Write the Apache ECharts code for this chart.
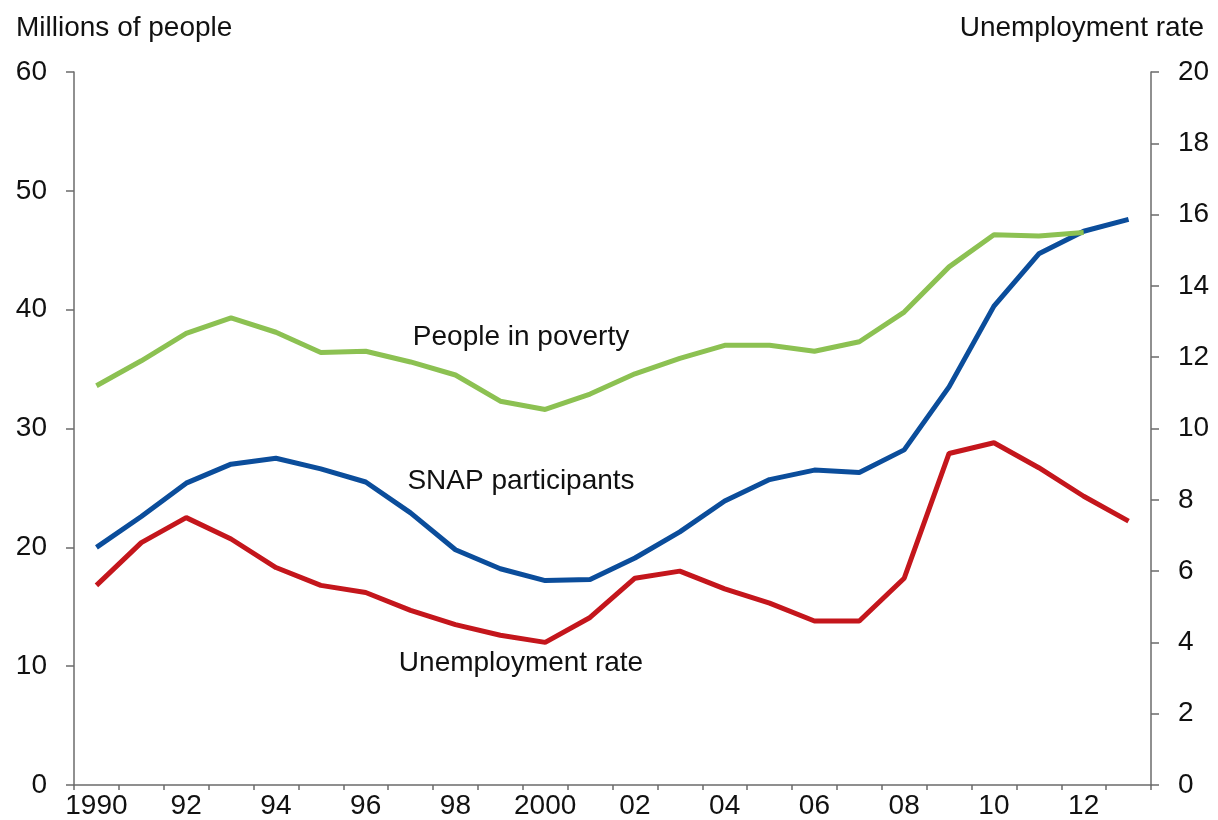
<!DOCTYPE html>
<html>
<head>
<meta charset="utf-8">
<script src="https://cdn.jsdelivr.net/npm/echarts@6/dist/echarts.min.js"></script>
<style>
	html, body { margin: 0; padding: 0; background: #fff; }
	#chart { width: 1218px; height: 820px; }
</style>
</head>
<body>
<div id="chart"></div>
<script>
// years shown on the x axis (every other one gets a label)
const years = ["1990", "91", "92", "93", "94", "95", "96", "97", "98", "99",
	"2000", "01", "02", "03", "04", "05", "06", "07", "08", "09",
	"10", "11", "12", "13"]

// millions of people, left axis
const poverty = [33.6, 35.7, 38.0, 39.3, 38.1, 36.4, 36.5, 35.6, 34.5, 32.3,
	31.6, 32.9, 34.6, 35.9, 37.0, 37.0, 36.5, 37.3, 39.8, 43.6,
	46.3, 46.2, 46.5, null]
const snap = [20.0, 22.6, 25.4, 27.0, 27.5, 26.6, 25.5, 22.9, 19.8, 18.2,
	17.2, 17.3, 19.1, 21.3, 23.9, 25.7, 26.5, 26.3, 28.2, 33.5,
	40.3, 44.7, 46.6, 47.6]

// percent, right axis
const unemployment = [5.6, 6.8, 7.5, 6.9, 6.1, 5.6, 5.4, 4.9, 4.5, 4.2,
	4.0, 4.7, 5.8, 6.0, 5.5, 5.1, 4.6, 4.6, 5.8, 9.3,
	9.6, 8.9, 8.1, 7.4]

const font = "'Liberation Sans', Arial, Helvetica, sans-serif"
const axisColor = "#6b6b6b"
const textColor = "#111"
const fs = 28

let chart = echarts.init(document.getElementById("chart"))

let option = {
	backgroundColor: "#fff",
	animation: false,
	textStyle: { fontFamily: font },
	title: [
		{
			text: "Millions of people",
			left: 11,
			top: 9,
			textStyle: { fontFamily: font, fontSize: fs, fontWeight: "normal", color: textColor }
		},
		{
			text: "Unemployment rate",
			right: 9,
			top: 9,
			textStyle: { fontFamily: font, fontSize: fs, fontWeight: "normal", color: textColor }
		}
	],
	grid: {
		top: 72,
		bottom: 34,
		left: 74,
		right: 67,
		containLabel: false
	},
	xAxis: {
		type: "category",
		data: years,
		boundaryGap: true,
		axisLine: { show: true, lineStyle: { color: axisColor, width: 1.5 } },
		axisTick: { show: true, interval: 0, length: 5, lineStyle: { color: axisColor, width: 1.5 } },
		axisLabel: {
			interval: 1,
			margin: 7,
			fontSize: fs,
			fontFamily: font,
			color: textColor
		},
		splitLine: { show: false }
	},
	yAxis: [
		{
			type: "value",
			min: 0,
			max: 60,
			interval: 10,
			position: "left",
			axisLine: { show: true, lineStyle: { color: axisColor, width: 1.5 } },
			axisTick: { show: true, length: 8, lineStyle: { color: axisColor, width: 1.5 } },
			axisLabel: { margin: 27, fontSize: fs, fontFamily: font, color: textColor },
			splitLine: { show: false }
		},
		{
			type: "value",
			min: 0,
			max: 20,
			interval: 2,
			position: "right",
			axisLine: { show: true, lineStyle: { color: axisColor, width: 1.5 } },
			axisTick: { show: true, length: 8, lineStyle: { color: axisColor, width: 1.5 } },
			axisLabel: { margin: 27, fontSize: fs, fontFamily: font, color: textColor },
			splitLine: { show: false }
		}
	],
	series: [
		{
			name: "People in poverty",
			type: "line",
			yAxisIndex: 0,
			data: poverty,
			symbol: "none",
			lineStyle: { color: "#8cc152", width: 5 },
			z: 3
		},
		{
			name: "SNAP participants",
			type: "line",
			yAxisIndex: 0,
			data: snap,
			symbol: "none",
			lineStyle: { color: "#0b4d9b", width: 5 },
			z: 2
		},
		{
			name: "Unemployment rate",
			type: "line",
			yAxisIndex: 1,
			data: unemployment,
			symbol: "none",
			lineStyle: { color: "#c4161c", width: 5 },
			z: 2
		}
	],
	graphic: [
		{
			type: "text",
			x: 521,
			y: 337,
			style: { text: "People in poverty", font: fs + "px " + font, fill: textColor, align: "center", verticalAlign: "middle" }
		},
		{
			type: "text",
			x: 521,
			y: 481,
			style: { text: "SNAP participants", font: fs + "px " + font, fill: textColor, align: "center", verticalAlign: "middle" }
		},
		{
			type: "text",
			x: 521,
			y: 663,
			style: { text: "Unemployment rate", font: fs + "px " + font, fill: textColor, align: "center", verticalAlign: "middle" }
		}
	]
}

chart.setOption(option)
</script>
</body>
</html>
